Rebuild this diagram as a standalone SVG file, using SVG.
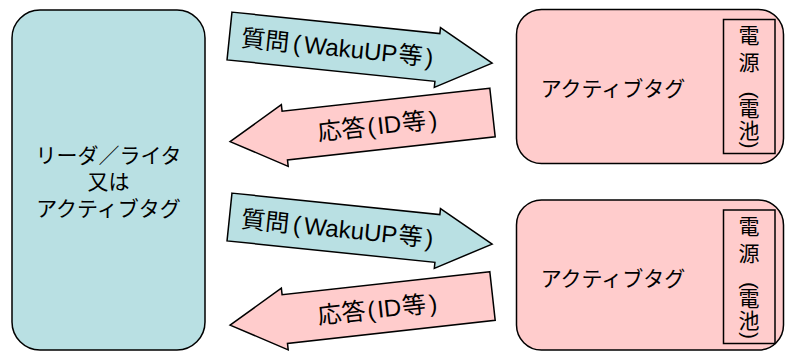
<svg xmlns="http://www.w3.org/2000/svg" width="786" height="352" viewBox="0 0 786 352">
<style>
text{font-family:"Liberation Sans","Noto Sans CJK JP",sans-serif;fill:#000}
.blue{fill:#b9e0e3;stroke:#000;stroke-width:1.5;stroke-linejoin:miter}
.pink{fill:#ffcccc;stroke:#000;stroke-width:1.5;stroke-linejoin:miter}
.frame{fill:none;stroke:#000;stroke-width:1.5}
.lbl{font-size:24px}
.node{font-size:21px;text-anchor:middle}
.vt{font-size:21px;text-anchor:middle}
</style>
<defs>
<polygon id="arrR" points="0,-24 209,-24 209,-30 264,0 209,30 209,24 0,24"/>
<polygon id="arrL" points="0,-24.5 -209,-24.5 -209,-31 -264,0 -209,31 -209,24.5 0,24.5"/>
</defs>

<g id="reader">
<rect class="blue" x="12" y="10" width="193" height="340" rx="28" ry="28"/>
<text x="108.5" y="163" style="font-size:21px;text-anchor:middle">リーダ／ライタ</text>
<text x="108.5" y="189" style="font-size:21px;text-anchor:middle">又は</text>
<text x="108.5" y="216" style="font-size:21px;text-anchor:middle">アクティブタグ</text>
</g>

<g id="tag1">
<rect class="pink" x="516.5" y="9.5" width="267" height="154" rx="25" ry="25"/>
<text class="node" x="613" y="96">アクティブタグ</text>
<rect class="frame" x="723.5" y="19.5" width="51.5" height="134"/>
<text class="vt" x="749" y="43">電</text>
<text class="vt" x="749" y="70">源</text>
<text class="vt" transform="translate(749,95) rotate(90)" x="0" y="6">(</text>
<text class="vt" x="749" y="115.5">電</text>
<text class="vt" x="749" y="137.5">池</text>
<text class="vt" transform="translate(749,145) rotate(90)" x="0" y="6">)</text>
</g>

<g id="tag2">
<rect class="pink" x="516.5" y="200" width="267" height="150" rx="25" ry="25"/>
<text class="node" x="613" y="286">アクティブタグ</text>
<rect class="frame" x="723.5" y="210" width="51.5" height="133.5"/>
<text class="vt" x="749" y="234">電</text>
<text class="vt" x="749" y="260.5">源</text>
<text class="vt" transform="translate(749,285.5) rotate(90)" x="0" y="6">(</text>
<text class="vt" x="749" y="306">電</text>
<text class="vt" x="749" y="328">池</text>
<text class="vt" transform="translate(749,335.5) rotate(90)" x="0" y="6">)</text>
</g>

<g id="connectors">
<g id="query1" transform="translate(229.5,36) rotate(5.9)">
<use href="#arrR" class="blue"/>
<text class="lbl" y="9"><tspan x="12">質問</tspan><tspan x="64">(</tspan><tspan x="75">WakuUP</tspan><tspan x="170">等</tspan><tspan x="197">)</tspan></text>
</g>
<g id="reply1" transform="translate(492.5,112.5) rotate(-6.33)">
<use href="#arrL" class="pink"/>
<text class="lbl" y="9"><tspan x="-176">応答</tspan><tspan x="-126">(</tspan><tspan x="-116">ID</tspan><tspan x="-91">等</tspan><tspan x="-64">)</tspan></text>
</g>
<g id="query2" transform="translate(229.5,217) rotate(5.9)">
<use href="#arrR" class="blue"/>
<text class="lbl" y="9"><tspan x="12">質問</tspan><tspan x="64">(</tspan><tspan x="75">WakuUP</tspan><tspan x="170">等</tspan><tspan x="197">)</tspan></text>
</g>
<g id="reply2" transform="translate(492.5,296) rotate(-6.33)">
<use href="#arrL" class="pink"/>
<text class="lbl" y="9"><tspan x="-176">応答</tspan><tspan x="-126">(</tspan><tspan x="-116">ID</tspan><tspan x="-91">等</tspan><tspan x="-64">)</tspan></text>
</g>
</g>
</svg>
